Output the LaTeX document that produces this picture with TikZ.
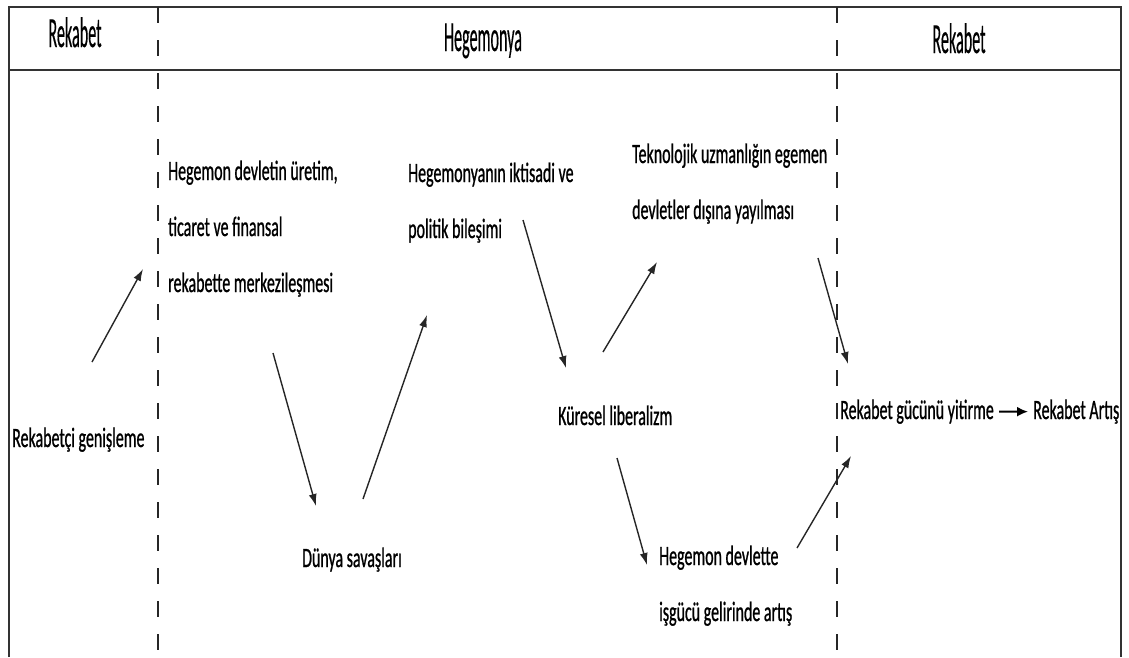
\documentclass[tikz,border=0pt]{standalone}
\usepackage{fontspec}
\setmainfont{Carlito}
\newfontfamily\bodyfont[FakeStretch=0.57,FakeBold=0.8]{Carlito}
\newfontfamily\headfont[FakeStretch=0.375,FakeBold=0.3]{Carlito}
\usetikzlibrary{arrows.meta}
\begin{document}
\begin{tikzpicture}[x=1pt,y=-1pt,
  txt/.style={inner sep=0pt, anchor=base west, font=\bodyfont\fontsize{28}{56}\selectfont},
  hd/.style={inner sep=0pt, anchor=base, font=\headfont\fontsize{43}{50}\selectfont},
  frame/.style={line width=1.8pt, draw=black!80},
  sep/.style={line width=1.3pt, draw=black!85, dash pattern=on 16pt off 17pt},
  arr/.style={line width=1.4pt, draw=black!85, -{Latex[length=12pt,width=8pt]}},
  arrb/.style={line width=2pt, draw=black, -{Latex[length=11pt,width=10pt]}}]
\useasboundingbox (0,0) rectangle (1129,657);
% frame
\draw[frame] (9,657) -- (9,7) -- (1121,7) -- (1121,657);
\draw[frame] (9,70) -- (1121,70);
\draw[sep] (158,7) -- (158,657);
\draw[sep] (837,7) -- (837,657);
% headers
\node[hd] (h1) at (75,47) {Rekabet};
\node[hd] (h2) at (483,51) {Hegemonya};
\node[hd] (h3) at (959,53) {Rekabet};
% texts
\node[txt] (n1) at (168,180) {\begin{tabular}[t]{@{}l@{}}Hegemon devletin üretim,\\ ticaret ve finansal\\ rekabette merkezileşmesi\end{tabular}};
\node[txt] (n2) at (408,182) {\begin{tabular}[t]{@{}l@{}}Hegemonyanın iktisadi ve\\ politik bileşimi\end{tabular}};
\node[txt] (n3) at (632,163) {\begin{tabular}[t]{@{}l@{}}Teknolojik uzmanlığın egemen\\ devletler dışına yayılması\end{tabular}};
\node[txt] (n4) at (12,447) {Rekabetçi genişleme};
\node[txt] (n5) at (302,567) {Dünya savaşları};
\node[txt] (n6) at (558,425) {Küresel liberalizm};
\node[txt] (n7) at (659,565) {\begin{tabular}[t]{@{}l@{}}Hegemon devlette\\ işgücü gelirinde artış\end{tabular}};
\node[txt] (n8) at (840,419) {Rekabet gücünü yitirme};
\node[txt] (n9) at (1033,419) {Rekabet Artış};
% arrow ends
\coordinate (a1) at (92,362);  \coordinate (a2) at (143,269);
\coordinate (b1) at (273,353); \coordinate (b2) at (316,506);
\coordinate (c1) at (363,499); \coordinate (c2) at (427,315);
\coordinate (d1) at (523,220); \coordinate (d2) at (566,368);
\coordinate (e1) at (603,352); \coordinate (e2) at (657,262);
\coordinate (f1) at (818,258); \coordinate (f2) at (848,364);
\coordinate (g1) at (617,458); \coordinate (g2) at (647,565);
\coordinate (k1) at (797,548); \coordinate (k2) at (851,456);
\draw[arr] (a1) -- (a2);
\draw[arr] (b1) -- (b2);
\draw[arr] (c1) -- (c2);
\draw[arr] (d1) -- (d2);
\draw[arr] (e1) -- (e2);
\draw[arr] (f1) -- (f2);
\draw[arr] (g1) -- (g2);
\draw[arr] (k1) -- (k2);
\draw[arrb] ([xshift=5pt]n8.east) -- ([xshift=-5pt]n9.west);
\end{tikzpicture}
\end{document}
